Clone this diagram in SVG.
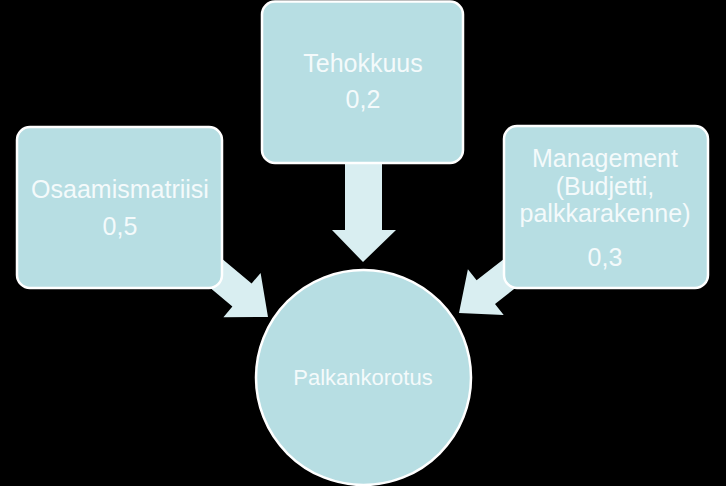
<svg xmlns="http://www.w3.org/2000/svg" width="726" height="486" viewBox="0 0 726 486">
<style>
.box{fill:#b7dee3;stroke:#ffffff;stroke-width:2.5}
.arr{fill:#d9eef1;stroke:none}
.t{font-family:"Liberation Sans",Arial,sans-serif;font-size:25px;fill:#f4fafb;text-anchor:middle}
.tc{font-family:"Liberation Sans",Arial,sans-serif;font-size:22px;fill:#f4fafb;text-anchor:middle}
</style>
<rect width="726" height="486" fill="#000000"/>
<g id="connectors">
<polygon class="arr" points="345,150 382,150 382,230 396,230 363,262 332,230 345,230"/>
<polygon class="arr" points="208.7,247.6 251.6,283.6 260.6,272.9 268,317 223.4,317.3 232.4,306.6 189.5,270.6"/>
<polygon class="arr" points="520.7,245.8 476.6,280.3 467.9,269.2 459,313 503.7,315 495,303.9 539.1,269.4"/>
</g>
<g id="node-tehokkuus">
<rect class="box" x="262" y="1.5" width="201" height="161.5" rx="13"/>
<text class="t" x="363" y="72">Tehokkuus</text>
<text class="t" x="363" y="108">0,2</text>
</g>
<g id="node-osaamismatriisi">
<rect class="box" x="17" y="127" width="205" height="161" rx="13"/>
<text class="t" x="120" y="198">Osaamismatriisi</text>
<text class="t" x="120" y="235">0,5</text>
</g>
<g id="node-management">
<rect class="box" x="504" y="126" width="204" height="162" rx="13"/>
<text class="t" x="605" y="167">Management</text>
<text class="t" x="605" y="195">(Budjetti,</text>
<text class="t" x="605" y="222">palkkarakenne)</text>
<text class="t" x="605" y="266">0,3</text>
</g>
<g id="node-palkankorotus">
<circle class="box" cx="363.5" cy="377.5" r="107.5"/>
<text class="tc" x="363" y="385">Palkankorotus</text>
</g>
</svg>
